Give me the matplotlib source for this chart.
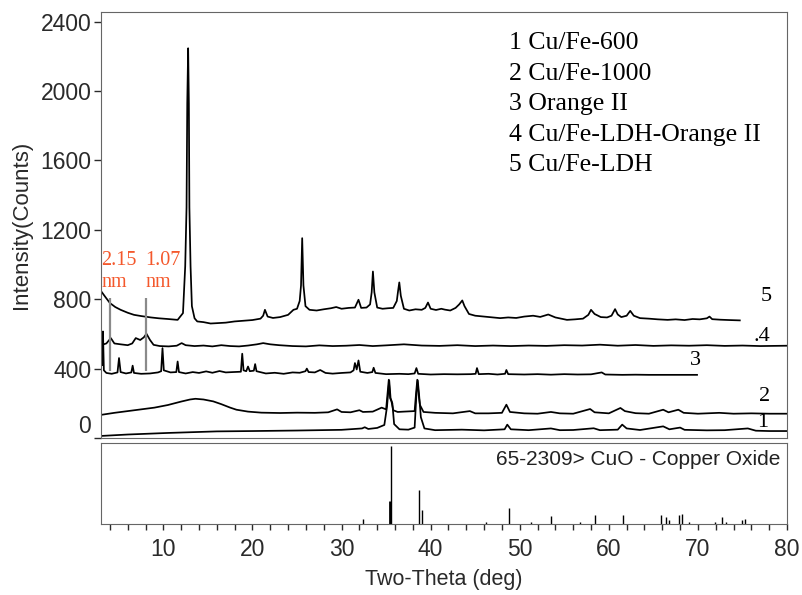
import matplotlib
matplotlib.use("Agg")
import matplotlib.pyplot as plt

# Traces (2-theta in deg, intensity in counts)
tt5 = [3.1, 3.5, 4.0, 4.6, 5.2, 6.0, 6.7, 7.5, 8.6, 9.5,
       10.5, 11.6, 12.2, 12.45, 12.6, 12.68, 12.78, 12.86, 12.92, 13.05,
       13.2, 13.5, 13.8, 14.5, 15.3, 16.0, 17.0, 18.0, 19.0, 20.0,
       20.9, 21.2, 21.4, 21.7, 22.3, 23.1, 24.0, 24.6, 25.0, 25.3,
       25.45, 25.58, 25.72, 25.95, 26.4, 27.2, 28.0, 28.8, 29.4, 30.0,
       30.8, 31.5, 31.9, 32.2, 32.8, 33.2, 33.38, 33.52, 33.68, 34.0,
       34.6, 35.2, 35.8, 36.2, 36.35, 36.48, 36.65, 37.0, 37.6, 38.3,
       39.0, 39.4, 39.7, 40.0, 40.6, 41.2, 41.6, 42.2, 42.8, 43.2,
       43.55, 43.8, 44.3, 45.0, 46.0, 47.0, 47.8, 48.7, 49.6, 50.5,
       51.5, 52.3, 53.2, 54.0, 55.3, 56.2, 57.1, 57.7, 58.0, 58.4,
       59.1, 59.8, 60.3, 60.7, 61.0, 61.4, 62.0, 62.4, 62.8, 63.5,
       64.5, 65.5, 66.6, 67.5, 68.5, 69.4, 70.2, 71.0, 71.3, 71.6,
       72.5, 73.5, 74.7]
i5 = [840, 812, 778, 755, 739, 722, 710, 703, 695, 690,
      686, 681, 720, 990, 1330, 1930, 2247, 1930, 1330, 990,
      760, 690, 672, 668, 660, 662, 665, 672, 676, 680,
      688, 705, 739, 700, 692, 697, 710, 739, 745, 790,
      880, 1152, 880, 760, 739, 735, 742, 748, 755, 745,
      750, 752, 797, 750, 752, 770, 840, 960, 840, 752,
      745, 748, 750, 790, 850, 897, 820, 745, 735, 742,
      739, 750, 781, 745, 738, 745, 740, 735, 750, 770,
      793, 760, 715, 705, 700, 695, 691, 695, 692, 700,
      705, 698, 712, 695, 681, 684, 688, 710, 739, 715,
      697, 695, 705, 743, 712, 697, 705, 733, 705, 691,
      688, 684, 681, 684, 680, 686, 684, 690, 700, 685,
      682, 680, 678]

tt4 = [3.1, 3.6, 4.1, 4.5, 5.2, 6.0, 6.5, 6.9, 7.4, 7.8,
       8.1, 8.5, 8.9, 9.6, 10.6, 11.5, 12.05, 12.5, 13.5, 14.5,
       15.5, 16.5, 17.5, 18.5, 19.5, 20.5, 21.2, 22.0, 23.0, 24.5,
       26.0, 27.5, 29.0, 30.5, 32.0, 33.5, 35.0, 37.0, 39.0, 41.0,
       43.0, 45.0, 47.0, 49.0, 51.0, 53.0, 55.0, 57.0, 59.0, 61.0,
       63.0, 65.0, 67.0, 69.0, 71.0, 73.0, 75.0, 77.0, 80.0]
i4 = [537, 545, 576, 545, 540, 535, 545, 576, 565, 580,
      601, 565, 537, 530, 528, 532, 547, 535, 530, 533,
      528, 535, 530, 528, 533, 540, 547, 540, 535, 530,
      528, 534, 530, 532, 536, 530, 534, 540, 533, 531,
      535, 530, 533, 530, 533, 531, 535, 533, 538, 532,
      536, 531, 534, 532, 535, 531, 533, 530, 532]

tt3 = [3.05, 3.15, 3.22, 3.32, 3.6, 4.2, 4.85, 5.02, 5.2, 5.8,
       6.4, 6.55, 6.7, 7.5, 8.5, 9.4, 9.75, 9.9, 10.05, 10.8,
       11.45, 11.6, 11.75, 12.5, 13.3, 14.0, 14.8, 15.5, 16.3, 17.0,
       17.8, 18.7, 18.85, 19.0, 19.3, 19.5, 19.7, 20.15, 20.3, 20.45,
       21.5, 22.5, 23.5, 24.5, 25.3, 25.95, 26.1, 26.3, 27.0, 27.6,
       28.2, 29.0, 30.0, 31.0, 31.35, 31.5, 31.7, 31.9, 32.1, 32.9,
       33.45, 33.6, 33.8, 35.0, 36.5, 37.5, 38.2, 38.4, 38.6, 40.0,
       41.5, 43.0, 44.5, 45.05, 45.2, 45.4, 46.5, 47.5, 48.35, 48.5,
       48.7, 50.5, 52.0, 53.5, 55.0, 56.5, 58.0, 59.2, 59.6, 61.5,
       63.0, 64.5, 66.0, 67.5, 69.9]
i3 = [440, 420, 614, 390, 375, 370, 378, 461, 380, 372,
      378, 417, 375, 370, 372, 378, 385, 518, 390, 378,
      380, 441, 380, 372, 380, 375, 384, 376, 386, 378,
      380, 382, 486, 390, 385, 412, 385, 388, 426, 385,
      372, 376, 370, 378, 376, 385, 400, 380, 378, 392,
      375, 371, 375, 378, 390, 432, 395, 447, 382, 375,
      380, 405, 375, 368, 370, 368, 372, 403, 370, 366,
      368, 367, 368, 370, 403, 368, 370, 366, 370, 392,
      368, 366, 368, 365, 368, 366, 367, 378, 366, 364,
      365, 364, 364, 364, 364]

tt2 = [3.1, 4.5, 6.0, 7.5, 9.0, 10.5, 12.0, 13.0, 13.6, 14.5,
       15.6, 16.5, 17.5, 18.2, 19.5, 21.0, 23.1, 25.0, 27.0, 28.5,
       29.5, 30.0, 31.0, 32.0, 32.4, 33.5, 34.5, 35.0, 35.15, 35.3,
       35.45, 35.6, 35.8, 36.3, 37.0, 38.2, 38.35, 38.5, 38.65, 38.8,
       39.2, 40.5, 42.5, 44.4, 45.0, 46.5, 48.0, 48.5, 48.9, 50.5,
       52.0, 53.5, 54.5, 56.0, 57.9, 58.4, 60.0, 61.3, 61.8, 63.0,
       64.5, 66.1, 66.7, 67.8, 68.4, 70.0, 72.4, 74.0, 76.0, 78.0,
       80.0]
i2 = [134, 145, 155, 165, 175, 190, 210, 222, 226, 222,
      211, 195, 175, 163, 152, 146, 144, 146, 145, 148,
      165, 150, 148, 160, 150, 152, 175, 165, 250, 336,
      230, 211, 160, 150, 152, 155, 250, 336, 250, 190,
      150, 145, 142, 155, 142, 142, 145, 192, 150, 142,
      140, 150, 142, 140, 167, 148, 142, 173, 155, 143,
      140, 163, 148, 163, 145, 140, 145, 140, 142, 140,
      140]

tt1 = [3.1, 6.0, 10.5, 16.0, 20.0, 25.0, 30.0, 32.3, 32.6, 33.0,
       34.0, 34.8, 35.1, 35.35, 35.5, 35.7, 35.9, 36.5, 37.5, 38.2,
       38.4, 38.55, 38.7, 38.9, 39.3, 40.5, 43.5, 46.0, 48.3, 48.6,
       49.0, 51.0, 53.5, 54.5, 56.0, 58.3, 59.0, 61.0, 61.5, 62.0,
       63.5, 66.1, 66.8, 68.0, 68.5, 71.0, 73.0, 75.6, 76.5, 78.0,
       80.0]
i1 = [12, 20, 29, 38, 40, 43, 47, 55, 62, 52,
      58, 75, 180, 332, 230, 200, 80, 50, 48, 60,
      250, 332, 250, 120, 55, 45, 48, 44, 50, 77,
      50, 45, 55, 45, 46, 56, 45, 48, 77, 55,
      46, 67, 50, 60, 47, 44, 45, 55, 42, 40,
      40]

# Reference pattern 65-2309 CuO (relative intensity, %)
ref_tt = [32.4, 35.4, 35.55, 38.7, 39.05, 46.2, 48.8, 51.3, 53.5, 56.8,
          58.4, 61.6, 65.8, 66.4, 66.7, 67.9, 68.2, 69.0, 71.9, 72.7,
          73.1, 74.9, 75.3]
ref_int = [7, 30, 100, 44, 18, 3, 20, 2.5, 10, 3,
           11, 11, 11, 8.5, 5.6, 11, 13, 3, 3, 8.5,
           3, 5.6, 7]

legend_labels = ["1 Cu/Fe-600", "2 Cu/Fe-1000", "3 Orange II",
                 "4 Cu/Fe-LDH-Orange II", "5 Cu/Fe-LDH"]
spacing_marks = [4.0, 8.05]          # d-spacing guide lines (2-theta)
spacing_texts = ["2.15", "1.07"]

sans = "Liberation Sans"
serif = "Liberation Serif"
red = "#F4582C"

fig = plt.figure(figsize=(8.03, 5.95), dpi=100)
ax = fig.add_axes([0.1258, 0.2639, 0.8543, 0.7159])
ax2 = fig.add_axes([0.1258, 0.1193, 0.8543, 0.1362])

for tt, ii in [(tt1, i1), (tt2, i2), (tt3, i3), (tt4, i4), (tt5, i5)]:
    ax.plot(tt, ii, color="black", lw=1.25)

ax.vlines(spacing_marks, 384, 806, colors="#8a8a8a", lw=1.6, zorder=3)
for xm, txt in zip([3.05, 7.95], spacing_texts):
    ax.text(xm, 1026, txt, color=red, fontsize=14.5, family=serif, ha="left", va="center")
    ax.text(xm, 895, "nm", color=red, fontsize=14.5, family=serif, ha="left", va="center")

# curve numbers
for xl, yl, s in [(77.7, 816, "5"), (77.2, 585, ".4"), (69.7, 447, "3"),
                  (77.5, 240, "2"), (77.3, 90, "1")]:
    ax.text(xl, yl, s, fontsize=16, family=serif, ha="center", va="center")

for k, lab in enumerate(legend_labels):
    ax.text(0.595, 0.9265 - k * 0.0714, lab, transform=ax.transAxes,
            fontsize=18.5, family=serif, ha="left", va="center")

ax.set_xlim(3, 80)
ax.set_ylim(0, 2456)
ax.set_yticks([0, 400, 800, 1200, 1600, 2000, 2400])
ax.set_xticks([])
ax.tick_params(axis="y", direction="out", length=5, width=1, pad=2,
               labelsize=16.5, colors="#2a2a2a")
for lab in ax.get_yticklabels():
    lab.set_family(sans)
ax.yaxis.get_major_ticks()[0].label1.set_va("bottom")
ax.set_ylabel("Intensity(Counts)", fontsize=16, family=sans, color="#2a2a2a", labelpad=6)
for sp in ax.spines.values():
    sp.set_color("#666666")

# reference sticks
widths = [2.0 if v == 30 else 1.0 for v in ref_int]
ax2.vlines(ref_tt, 0, ref_int, colors="black", linewidths=widths)
ax2.set_xlim(3, 80)
ax2.set_ylim(0, 104)
ax2.set_yticks([])
ax2.set_xticks(range(10, 81, 10))
ax2.set_xticks(range(4, 81, 2), minor=True)
ax2.tick_params(axis="x", which="both", direction="out", length=4, width=1,
                pad=6, labelsize=16.5, colors="#2a2a2a")
for lab in ax2.get_xticklabels():
    lab.set_family(sans)
ax2.set_xlabel("Two-Theta (deg)", fontsize=15.5, family=sans, color="#2a2a2a", labelpad=6)
ax2.text(0.99, 0.79, "65-2309> CuO - Copper Oxide", transform=ax2.transAxes,
         fontsize=15, family=sans, color="#222222", ha="right", va="center")
for sp in ax2.spines.values():
    sp.set_color("#666666")

fig.savefig("out.png", dpi=100)
